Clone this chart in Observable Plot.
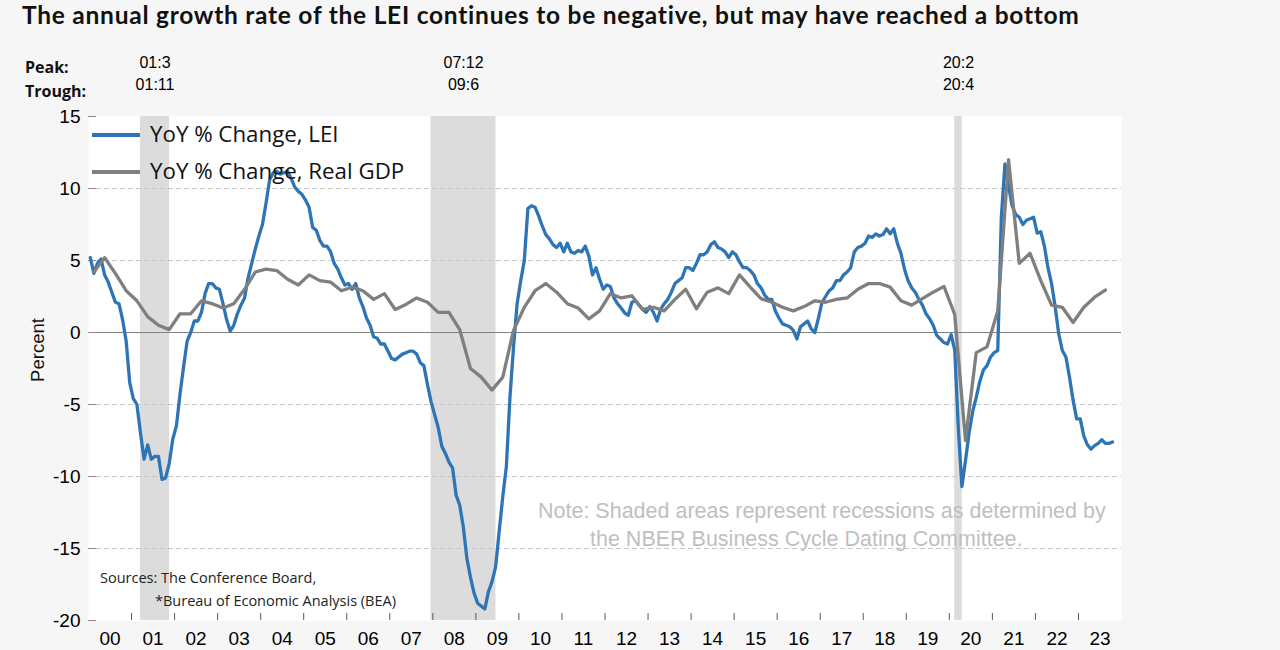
<!DOCTYPE html>
<html><head><meta charset="utf-8">
<script src="https://cdn.jsdelivr.net/npm/d3@7"></script>
<script src="https://cdn.jsdelivr.net/npm/@observablehq/plot@0.6"></script>
<style>
body{margin:0;background:#f6f6f6;}
#wrap{position:relative;width:1280px;height:650px;overflow:hidden;background:#f6f6f6;font-family:"Liberation Sans",Arial,sans-serif;}
#wrap svg{position:absolute;left:0;top:0;}
.abs{position:absolute;white-space:nowrap;line-height:1;}
#title{left:22px;top:0px;font-family:Lato,sans-serif;font-weight:bold;font-size:24.5px;line-height:1.2;letter-spacing:0.75px;color:#111;}
.pt{font-family:"Open Sans",sans-serif;font-weight:bold;font-size:16px;color:#111;left:25px;}
.leg{font-family:"Open Sans",sans-serif;font-size:22.3px;color:#111;left:150px;}
.sw{position:absolute;left:92px;width:48px;height:4px;}
.src{font-family:"Open Sans",sans-serif;font-size:14.5px;color:#222;}
.note{font-family:"Liberation Sans",Arial,sans-serif;font-size:21.5px;color:#bfbfbf;}
#ylab{font-family:"Liberation Sans",Arial,sans-serif;font-size:18.5px;color:#111;left:38px;top:350px;transform:translate(-50%,-50%) rotate(-90deg);}
</style></head>
<body><div id="wrap">
<div id="title" class="abs">The annual growth rate of the LEI continues to be negative, but may have reached a bottom</div>
<div class="abs pt" style="top:59px">Peak:</div>
<div class="abs pt" style="top:83px">Trough:</div>
<div id="ylab" class="abs">Percent</div>
</div>
<script>
// LEI, YoY % change, monthly Jan 2000 – Oct 2023
const leiValues = [
 5.2, 4.1, 4.8, 5.1, 4.0, 3.5, 2.8, 2.1, 2.0, 0.9, -0.6, -3.5,
 -4.6, -5.0, -7.0, -8.8, -7.8, -8.8, -8.6, -8.6, -10.2, -10.1, -9.1, -7.4,
 -6.5, -4.3, -2.4, -0.6, 0.0, 0.8, 0.8, 1.4, 2.7, 3.4, 3.4, 3.1,
 3.0, 2.0, 0.9, 0.1, 0.5, 1.3, 1.9, 2.4, 3.8, 4.8, 5.8, 6.7,
 7.5, 9.0, 10.6, 11.1, 11.2, 11.0, 11.1, 11.2, 10.7, 10.1, 9.8, 9.6,
 9.2, 8.7, 7.3, 7.1, 6.4, 6.0, 6.0, 5.6, 4.8, 4.4, 3.8, 3.3,
 3.4, 3.0, 3.4, 2.4, 1.8, 1.0, 0.5, -0.3, -0.4, -0.8, -0.8, -1.3,
 -1.8, -1.9, -1.7, -1.5, -1.4, -1.3, -1.3, -1.5, -2.1, -2.3, -3.6, -4.8,
 -5.7, -6.6, -7.9, -8.4, -9.0, -9.4, -11.3, -12.0, -13.5, -15.7, -17.0, -18.1,
 -18.8, -19.0, -19.2, -18.0, -17.3, -16.3, -13.8, -11.4, -9.3, -4.5, -1.0, 2.0,
 3.6, 5.0, 8.6, 8.8, 8.7, 8.1, 7.4, 6.8, 6.5, 6.1, 5.9, 6.2,
 5.6, 6.2, 5.6, 5.5, 5.7, 5.6, 6.0, 5.3, 4.0, 4.5, 3.7, 3.0,
 3.3, 3.2, 2.4, 2.0, 1.7, 1.35, 1.2, 2.1, 2.2, 1.9, 1.6, 1.4,
 1.8, 1.4, 0.8, 1.6, 2.0, 2.3, 2.8, 3.4, 3.6, 3.8, 4.5, 4.5,
 4.3, 4.8, 5.4, 5.4, 5.6, 6.1, 6.3, 5.9, 5.8, 5.6, 5.2, 5.6,
 5.4, 4.9, 4.5, 4.5, 4.3, 4.0, 3.4, 3.1, 2.6, 2.3, 2.3, 1.5,
 1.0, 0.6, 0.5, 0.4, 0.15, -0.45, 0.4, 0.6, 0.8, 0.25, 0.0, 1.0,
 2.1, 2.5, 2.9, 3.1, 3.6, 3.6, 4.0, 4.2, 4.5, 5.6, 5.9, 6.0,
 6.2, 6.7, 6.6, 6.85, 6.7, 6.8, 7.2, 6.85, 7.2, 6.2, 5.5, 4.4,
 3.6, 3.1, 2.8, 2.3, 1.9, 1.3, 0.95, 0.5, -0.2, -0.45, -0.7, -0.8,
 -0.15, -1.2, -6.6, -10.7, -8.9, -7.0, -5.5, -4.5, -3.4, -2.6, -2.3, -1.7,
 -1.4, -1.25, 8.0, 11.7, 10.2, 8.8, 8.2, 8.0, 7.5, 7.8, 7.9, 8.0,
 6.9, 7.0, 6.0, 4.5, 3.4, 1.8, -0.1, -1.25, -1.7, -3.1, -4.7, -6.0,
 -6.0, -7.2, -7.8, -8.1, -7.85, -7.7, -7.45, -7.7, -7.7, -7.6
];
// Real GDP, YoY % change, quarterly 2000Q1 – 2023Q3
const gdpValues = [
 4.2, 5.2, 4.1, 2.9,
 2.2, 1.1, 0.5, 0.2,
 1.3, 1.3, 2.2, 2.0,
 1.7, 2.0, 3.0, 4.2,
 4.4, 4.3, 3.7, 3.3,
 4.0, 3.6, 3.5, 2.9,
 3.15, 2.9, 2.3, 2.7,
 1.6, 1.95, 2.4, 2.1,
 1.4, 1.4, 0.2, -2.5,
 -3.1, -4.0, -3.1, 0.15,
 1.75, 2.9, 3.4, 2.8,
 2.0, 1.7, 0.95, 1.5,
 2.7, 2.4, 2.55, 1.6,
 1.75, 1.5, 2.3, 3.0,
 1.65, 2.8, 3.1, 2.7,
 4.0, 3.15, 2.35, 2.1,
 1.75, 1.5, 1.8, 2.2,
 2.1, 2.3, 2.4, 3.0,
 3.4, 3.4, 3.15, 2.2,
 1.9, 2.35, 2.8, 3.2,
 1.25, -7.5, -1.4, -1.0,
 1.5, 12.0, 4.8, 5.5,
 3.6, 1.9, 1.75, 0.7,
 1.75, 2.45, 2.95
];
const yearLabels = ["00","01","02","03","04","05","06","07","08","09","10","11","12","13","14","15","16","17","18","19","20","21","22","23"];
const yTicks = [15, 10, 5, 0, -5, -10, -15, -20];
const gridValues = [10, 5, -5, -10, -15];
const recPeakLabels = ["01:3", "07:12", "20:2"];
const recTroughLabels = ["01:11", "09:6", "20:4"];
const recPeakYear = [2001, 2007, 2020], recPeakMonth = [3, 12, 2];
const recTroughYear = [2001, 2009, 2020], recTroughMonth = [11, 6, 4];
const legendLabels = ["YoY % Change, LEI", "YoY % Change, Real GDP"];
const colors = ["#2e75b6", "#7f7f7f"];
const sourceLines = ["Sources: The Conference Board,", "*Bureau of Economic Analysis (BEA)"];
const noteLines = ["Note: Shaded areas represent recessions as determined by", "the NBER Business Cycle Dating Committee."];

const lei = leiValues.map((v, i) => ({t: 2000 + (i + 0.5) / 12, v}));
const gdp = gdpValues.map((v, j) => ({t: 2000 + j / 4 + 0.125, v}));
const rec = recPeakLabels.map((p, k) => {
  const start = recPeakYear[k] + (recPeakMonth[k] - 0.5) / 12;
  const end = recTroughYear[k] + (recTroughMonth[k] - 0.4) / 12;
  return {peak: p, trough: recTroughLabels[k], start, end, mid: (start + end) / 2};
});
const yearCenters = yearLabels.map((d, i) => 2000 + i + 0.5);
const yearBounds = yearLabels.slice(1).map((d, i) => 2001 + i);

const W = 1280, H = 650, mL = 88, mR = 159, mT = 116, mB = 30;
const fw = W - mL - mR, fh = H - mT - mB;

const chart = Plot.plot({
  width: W, height: H, marginLeft: mL, marginRight: mR, marginTop: mT, marginBottom: mB,
  x: {domain: [2000, 2024]},
  y: {domain: [-20, 15]},
  style: {background: "transparent", fontFamily: "Liberation Sans, Arial, sans-serif", color: "#000", overflow: "visible"},
  marks: [
    Plot.frame({fill: "white", stroke: null}),
    Plot.rect(rec, {x1: "start", x2: "end", fill: "#dcdcdc"}),
    Plot.ruleY(gridValues, {stroke: "#c8c8c8", strokeDasharray: "5,3"}),
    Plot.ruleY([0], {stroke: "#808080"}),
    Plot.ruleY(yTicks, {stroke: "#8a8a8a", insetRight: fw - 8}),
    Plot.ruleX(yearBounds, {stroke: "#595959", insetTop: fh - 7}),
    Plot.line(lei, {x: "t", y: "v", stroke: colors[0], strokeWidth: 3.3}),
    Plot.line(gdp, {x: "t", y: "v", stroke: colors[1], strokeWidth: 3.3}),
    Plot.axisY({ticks: yTicks, tickFormat: d => String(d), tickSize: 0, tickPadding: 8, fontSize: 19, label: null}),
    Plot.axisX({ticks: yearCenters, tickFormat: d => yearLabels[Math.floor(d) - 2000], tickSize: 0, tickPadding: 11, fontSize: 19, label: null}),
    Plot.text(rec, {x: "mid", text: "peak", frameAnchor: "top", lineAnchor: "middle", dy: -54, fontSize: 16}),
    Plot.text(rec, {x: "mid", text: "trough", frameAnchor: "top", lineAnchor: "middle", dy: -32, fontSize: 16})
  ]
});
const wrap = document.getElementById("wrap");
wrap.insertBefore(chart, wrap.firstChild);

function addDiv(cls, text, left, top) {
  const d = document.createElement("div");
  d.className = "abs " + cls;
  d.textContent = text;
  d.style.left = left + "px";
  d.style.top = top + "px";
  wrap.appendChild(d);
  return d;
}
// legend
legendLabels.forEach((lab, k) => {
  const sw = document.createElement("div");
  sw.className = "sw";
  sw.style.top = (133 + k * 37) + "px";
  sw.style.background = colors[k];
  wrap.appendChild(sw);
  addDiv("leg", lab, 150, 123 + k * 37);
});
addDiv("src", sourceLines[0], 100, 571);
addDiv("src", sourceLines[1], 155, 594);
addDiv("note", noteLines[0], 538, 501);
addDiv("note", noteLines[1], 590, 529);
</script>
</body></html>
